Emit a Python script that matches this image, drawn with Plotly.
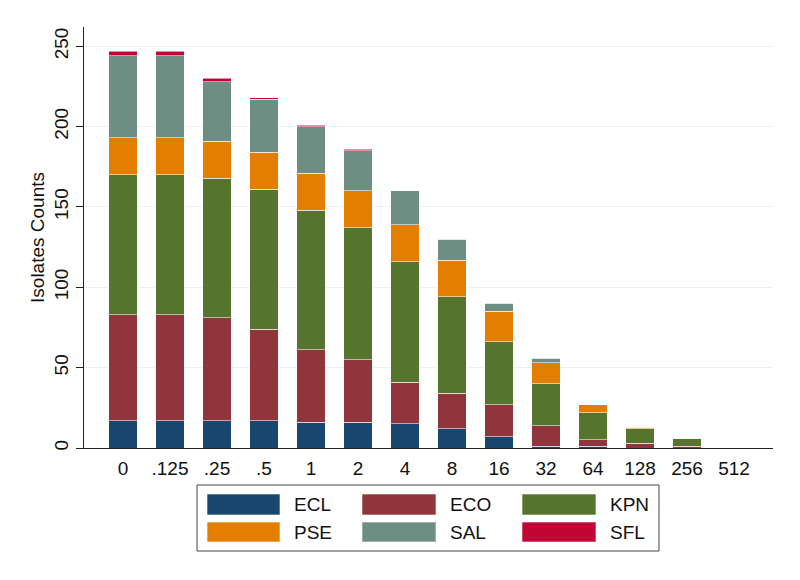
"""Stacked isolate counts by MIC category, Stata s2color look."""

import plotly.graph_objects as go

CATEGORIES = ["0", ".125", ".25", ".5", "1", "2", "4", "8", "16", "32", "64", "128", "256", "512"]

ECL = [17, 17, 17, 17, 16, 16, 15, 12, 7, 1, 1, 0, 0, 0]
ECO = [66, 66, 64, 57, 45, 39, 26, 22, 20, 13, 4, 3, 1, 0]
KPN = [87, 87, 87, 87, 87, 82, 75, 60, 39, 26, 17, 9, 5, 0]
PSE = [23, 23, 23, 23, 23, 23, 23, 23, 19, 13, 5, 1, 0, 0]
SAL = [51, 51, 37, 33, 29, 25, 21, 13, 5, 3, 0, 0, 0, 0]
SFL = [3, 3, 2, 1, 1, 1, 0, 0, 0, 0, 0, 0, 0, 0]

SERIES = [
    ("ECL", ECL, "#1a476f"),
    ("ECO", ECO, "#90353b"),
    ("KPN", KPN, "#55752f"),
    ("PSE", PSE, "#e37e00"),
    ("SAL", SAL, "#6e8e84"),
    ("SFL", SFL, "#c10534"),
]

FONT = "Liberation Sans, Arial, Helvetica, sans-serif"
FS = 19
# page body has an 8px margin, so the figure is a bit smaller than the window
OFF = 8
W, H = 800 - OFF, 580 - OFF
L, R, T, B = 84 - OFF, 27, 27 - OFF, 132
PW, PH = W - L - R, H - T - B


def px_x(x):
    # page pixel -> paper fraction
    return (x - OFF - L) / PW


def px_y(y):
    return (H - B - (y - OFF)) / PH


fig = go.Figure()
for name, values, color in SERIES:
    fig.add_trace(
        go.Bar(
            x=CATEGORIES,
            y=values,
            name=name,
            marker=dict(color=color, line=dict(color="rgba(255,255,255,0.55)", width=1)),
            showlegend=False,
        )
    )

# hand-built legend to get the wide Stata swatches
shapes = [
    dict(
        type="rect", xref="paper", yref="paper",
        x0=px_x(197), x1=px_x(659), y0=px_y(551), y1=px_y(485),
        line=dict(color="#444444", width=1), fillcolor="white", layer="below",
    )
]
annotations = []
col_x = [(207, 280, 292), (362, 436, 448), (522, 596, 608)]
row_y = [(494, 515), (522, 542)]
for idx, (name, _, color) in enumerate(SERIES):
    row, col = divmod(idx, 3)
    x0, x1, tx = col_x[col]
    y0, y1 = row_y[row]
    shapes.append(
        dict(
            type="rect", xref="paper", yref="paper",
            x0=px_x(x0), x1=px_x(x1), y0=px_y(y1), y1=px_y(y0),
            line=dict(color="rgba(255,255,255,0.6)", width=1), fillcolor=color,
        )
    )
    annotations.append(
        dict(
            text=name, xref="paper", yref="paper", x=px_x(tx), y=px_y((y0 + y1) / 2),
            xanchor="left", yanchor="middle", showarrow=False,
            font=dict(family=FONT, size=FS, color="#111111"),
        )
    )

fig.update_layout(
    width=W,
    height=H,
    barmode="stack",
    bargap=0.4,
    plot_bgcolor="white",
    paper_bgcolor="white",
    margin=dict(l=L, r=R, t=T, b=B),
    font=dict(family=FONT, size=FS, color="#111111"),
    shapes=shapes,
    annotations=annotations,
)
fig.update_xaxes(
    type="category",
    range=[-0.83, 13.83],
    showline=True,
    linecolor="#222222",
    linewidth=1,
    ticks="outside",
    ticklen=3,
    tickcolor="rgba(0,0,0,0)",
    showgrid=False,
    tickfont=dict(size=FS),
)
fig.update_yaxes(
    range=[0, 262],
    tickvals=[0, 50, 100, 150, 200, 250],
    tickangle=-90,
    showline=True,
    linecolor="#222222",
    linewidth=1,
    ticks="outside",
    ticklen=7,
    tickcolor="#222222",
    showgrid=True,
    gridcolor="#eaf2f3",
    gridwidth=1,
    zeroline=False,
    tickfont=dict(size=FS),
    title=dict(text="Isolates Counts", font=dict(size=FS), standoff=1),
)

fig.write_html("out.html")
